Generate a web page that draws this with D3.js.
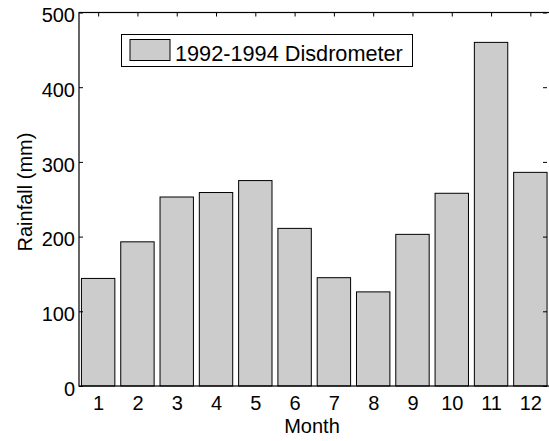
<!DOCTYPE html>
<html>
<head>
<meta charset="utf-8">
<script src="https://cdn.jsdelivr.net/npm/d3@7"></script>
<style>
  html, body { margin: 0; padding: 0; background: #fff; }
  svg { display: block; }
  text { font-family: "Liberation Sans", Arial, Helvetica, sans-serif; fill: #000; }
</style>
</head>
<body>
<svg id="chart" width="549" height="441"></svg>
<script>
// Monthly rainfall totals, disdrometer record 1992-1994
const months = [1, 2, 3, 4, 5, 6, 7, 8, 9, 10, 11, 12];
const rainfall = [144, 193, 253, 259, 275, 211, 145, 126, 203, 258, 460, 286];
const yTicks = [0, 100, 200, 300, 400, 500];
const seriesName = "1992-1994 Disdrometer";

const svg = d3.select("#chart");
const plotL = 79, plotR = 550, plotT = 12.5, plotB = 386;
const fontFam = "'Liberation Sans', Arial, sans-serif";

const x = d3.scaleLinear().domain([0.5, 12.5]).range([plotL - 0.5, plotR]);
const y = d3.scaleLinear().domain([0, 500]).range([plotB, plotT]);
const step = x(2) - x(1);
const barW = step * 0.85;

// bars
svg.append("g").selectAll("rect")
  .data(months)
  .join("rect")
  .attr("x", (d) => x(d) - barW / 2)
  .attr("y", (d, i) => y(rainfall[i]))
  .attr("width", barW)
  .attr("height", (d, i) => y(0) - y(rainfall[i]))
  .attr("fill", "#cccccc")
  .attr("stroke", "#000")
  .attr("stroke-width", 1);

// frame
svg.append("rect")
  .attr("x", plotL).attr("y", plotT)
  .attr("width", plotR - plotL).attr("height", plotB - plotT)
  .attr("fill", "none").attr("stroke", "#000").attr("stroke-width", 1.2);

// left axis
const yAxis = svg.append("g")
  .attr("transform", `translate(${plotL},0)`)
  .call(d3.axisLeft(y).tickValues(yTicks).tickSize(-4).tickPadding(4));
yAxis.select(".domain").remove();
yAxis.selectAll("text").attr("font-size", 20).attr("dy", "0.46em")
  .style("font-family", fontFam);

// right-side inner ticks
const yAxisR = svg.append("g")
  .attr("transform", `translate(${plotR - 3},0)`)
  .call(d3.axisRight(y).tickValues(yTicks).tickSize(-4).tickFormat(""));
yAxisR.select(".domain").remove();

// bottom axis
const xAxis = svg.append("g")
  .attr("transform", `translate(0,${plotB})`)
  .call(d3.axisBottom(x).tickValues(months).tickSize(0).tickPadding(10));
xAxis.select(".domain").remove();
xAxis.selectAll("text").attr("font-size", 20)
  .style("font-family", fontFam);

// top inner ticks
const xAxisT = svg.append("g")
  .attr("transform", `translate(0,${plotT})`)
  .call(d3.axisTop(x).tickValues(months).tickSize(-4).tickFormat(""));
xAxisT.select(".domain").remove();

// axis titles
svg.append("text")
  .attr("x", 312).attr("y", 433)
  .attr("text-anchor", "middle").attr("font-size", 20)
  .text("Month");

svg.append("text")
  .attr("transform", `translate(32,192) rotate(-90)`)
  .attr("text-anchor", "middle").attr("font-size", 20)
  .text("Rainfall (mm)");

// legend
const lg = svg.append("g");
lg.append("rect")
  .attr("x", 121.5).attr("y", 34.5).attr("width", 291).attr("height", 32)
  .attr("fill", "#fff").attr("stroke", "#000").attr("stroke-width", 1);
lg.append("rect")
  .attr("x", 130).attr("y", 39.5).attr("width", 40).attr("height", 21)
  .attr("fill", "#cccccc").attr("stroke", "#000").attr("stroke-width", 1);
lg.append("text")
  .attr("x", 175).attr("y", 60.5).attr("font-size", 21.7)
  .text(seriesName);
</script>
</body>
</html>
